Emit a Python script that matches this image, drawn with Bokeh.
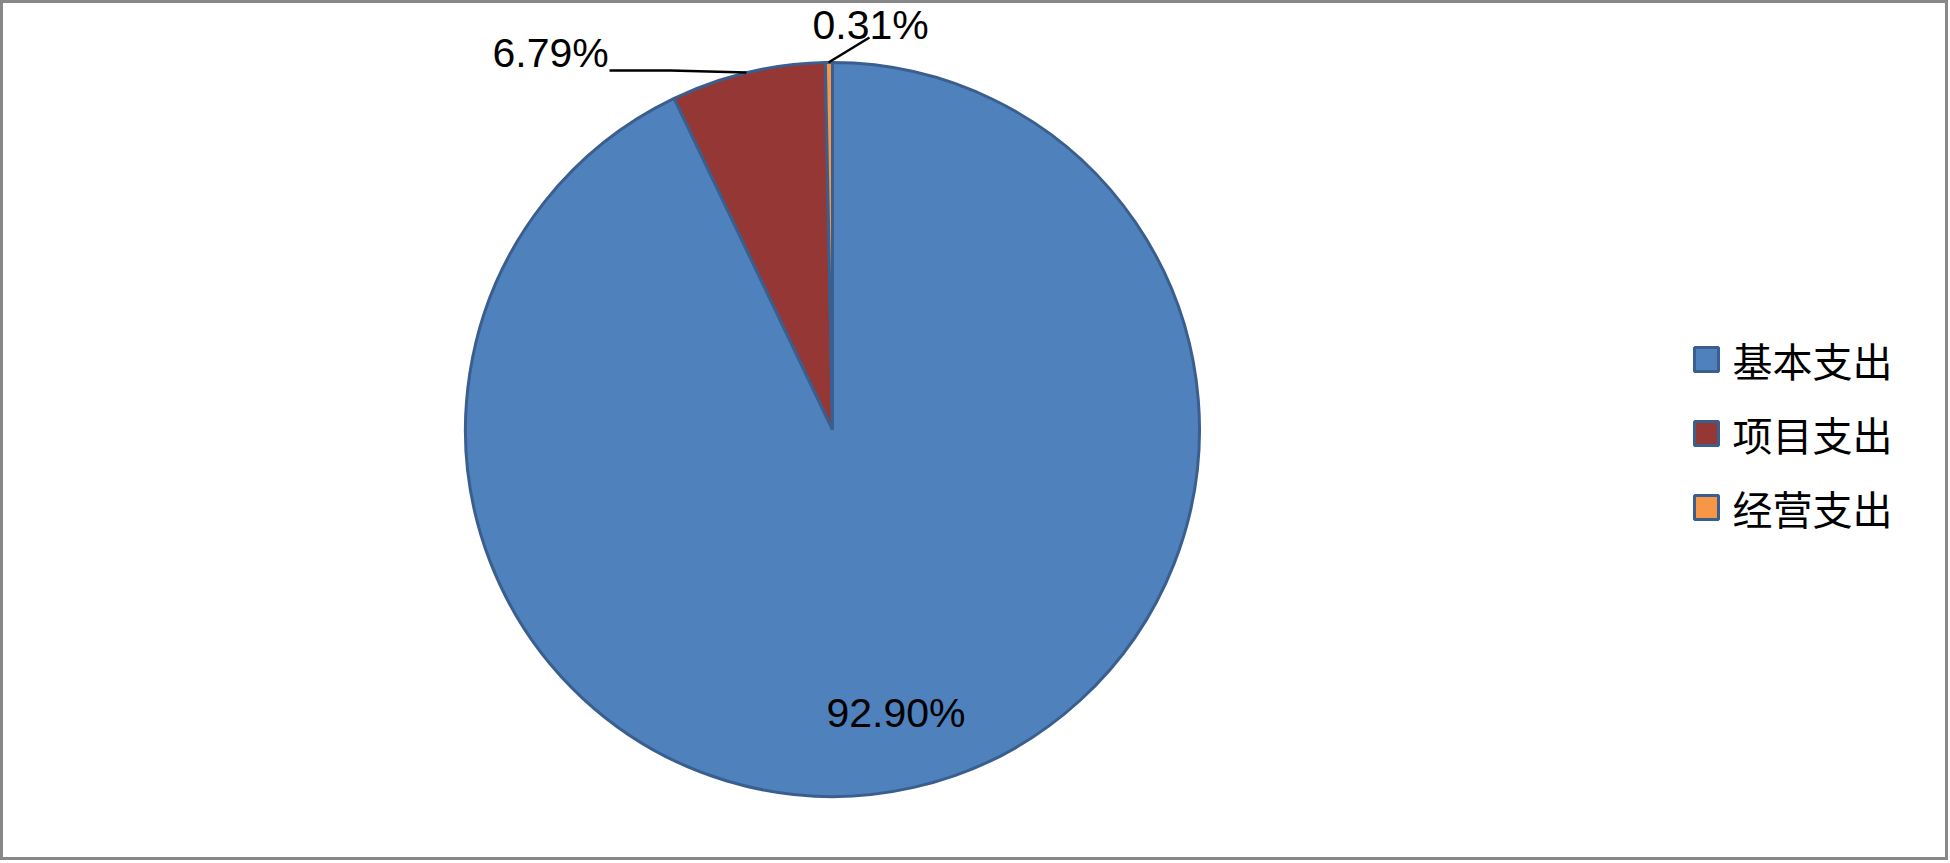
import math
from bokeh.plotting import figure
from bokeh.models import Range1d, ColumnDataSource
from bokeh.core.properties import value
from bokeh.embed import file_html
from bokeh.resources import INLINE

# ---- data ----
categories = ["基本支出", "项目支出", "经营支出"]
shares = [92.90, 6.79, 0.31]
labels = ["92.90%", "6.79%", "0.31%"]
colors = ["#4F81BD", "#953735", "#F79646"]

# ---- layout (reference pixel coords, y measured from top) ----
W, H = 1948, 860
def fy(y):
    return H - y

cx, cy, r = 832, 429, 367

p = figure(width=W, height=H, output_backend="svg", toolbar_location=None,
           x_range=Range1d(0, W), y_range=Range1d(0, H), min_border=0,
           background_fill_color="white", border_fill_color="white")
p.axis.visible = False
p.grid.visible = False
p.outline_line_color = "#888888"
p.outline_line_width = 5

total = sum(shares)
starts, ends = [], []
cum = 0.0
for v in shares:
    starts.append(math.pi / 2 - 2 * math.pi * cum / total)
    cum += v
    ends.append(math.pi / 2 - 2 * math.pi * cum / total)

src = ColumnDataSource(dict(start=starts, end=ends, color=colors, cat=categories))
p.wedge(x=cx, y=fy(cy), radius=r, start_angle="start", end_angle="end",
        direction="clock", fill_color="color", line_color="#3A5F8E",
        line_width=3, source=src)

# leader lines
p.line(x=[609, 670, 746], y=[fy(70), fy(70), fy(72)], line_color="black", line_width=2.5)
p.line(x=[869, 828], y=[fy(37), fy(62)], line_color="black", line_width=2.5)

# data labels (vertical centres)
lab_x = [826, 492, 812]
lab_y = [712, 52, 24]
p.text(x=lab_x, y=[fy(v) for v in lab_y], text=labels,
       text_font=value("Liberation Sans"), text_font_size="41px",
       text_align="left", text_baseline="middle", text_color="black")

# legend
leg_y = [359, 433, 507]
p.rect(x=[1706] * 3, y=[fy(v) for v in leg_y], width=24, height=24,
       fill_color=colors, line_color="#3A5F8E", line_width=3)
p.text(x=[1732] * 3, y=[fy(v) for v in leg_y], text=categories,
       text_font=value("Noto Sans CJK SC"), text_font_size="40px",
       text_align="left", text_baseline="middle", text_color="black")

open("out.html", "w").write(file_html(p, INLINE))
